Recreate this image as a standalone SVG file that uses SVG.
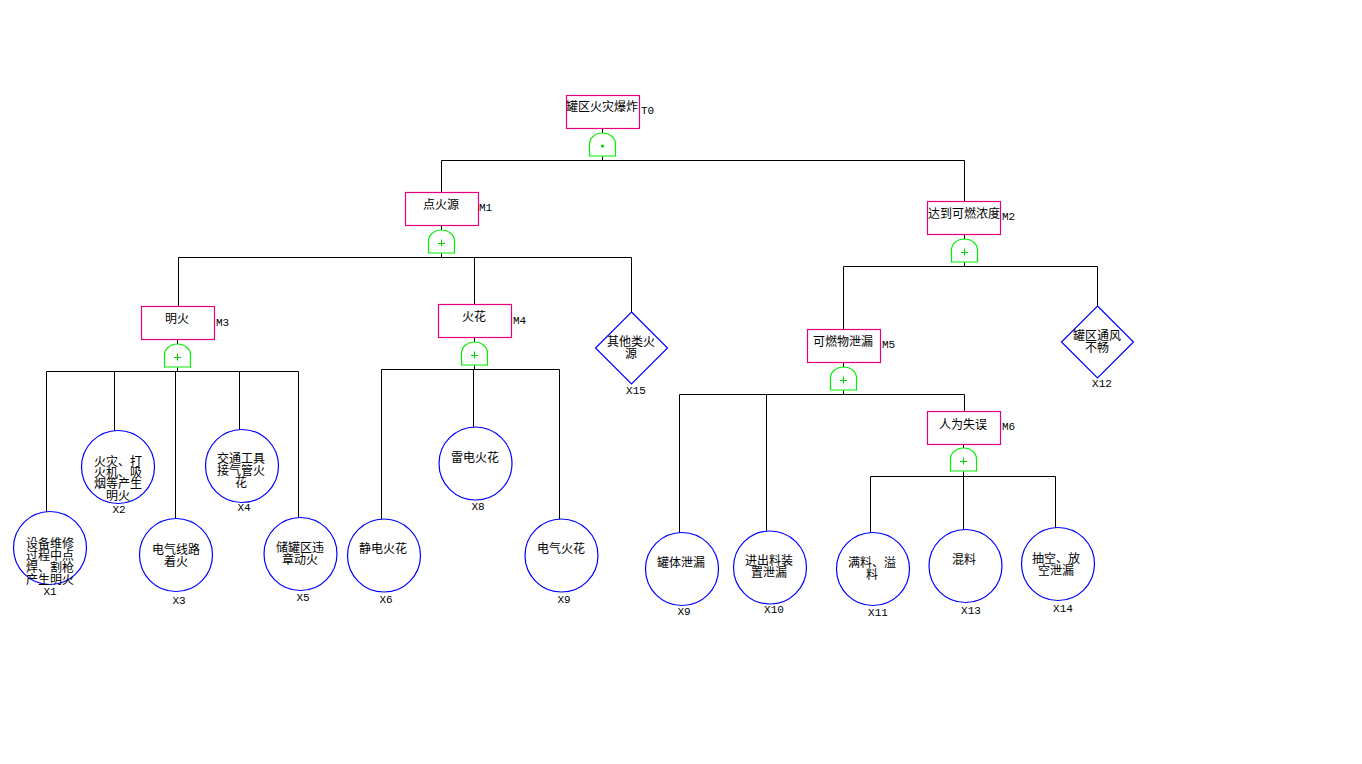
<svg xmlns="http://www.w3.org/2000/svg" width="1362" height="764" viewBox="0 0 1362 764">
<style>
.bg{fill:#ffffff}
.ev{fill:#ffffff;stroke:#e6007e;stroke-width:1.2}
.bs{fill:#ffffff;stroke:#0000ff;stroke-width:1.2}
.gate{fill:#ffffff;stroke:#00f000;stroke-width:1.2}
.gs{stroke:#00d000;stroke-width:1;fill:none}
.ln{stroke:#000000;stroke-width:1;fill:none}
.t{font-family:"Noto Sans CJK SC","Noto Sans CJK JP",sans-serif;font-size:12px;fill:#000;text-anchor:middle}
.id{font-family:"Liberation Mono",monospace;font-size:11px;fill:#000}
.idc{font-family:"Liberation Mono",monospace;font-size:11px;fill:#000;text-anchor:middle}
</style>
<defs>
<path id="g" d="M-13,23 V11 A13,11 0 0 1 13,11 V23 Z"/>
</defs>
<rect class="bg" x="0" y="0" width="1362" height="764"/>

<g id="connectors" transform="translate(0.5,0.5)">
<path class="ln" d="M602,128V133M602,156V160M441,160H964M441,160V192M964,160V201"/>
<path class="ln" d="M441,225V230M441,253V257M178,257H631M178,257V306M474,257V304M631,257V312"/>
<path class="ln" d="M177,339V344M177,367V371M46,371H298M46,371V512M114,371V431M175,371V518M239,371V430M298,371V518"/>
<path class="ln" d="M474,337V342M474,365V369M381,369H559M381,369V519M473,369V427M559,369V519"/>
<path class="ln" d="M964,234V239M964,262V266M843,266H1097M843,266V329M1097,266V306"/>
<path class="ln" d="M843,362V367M843,390V394M679,394H964M679,394V533M766,394V531M964,394V411"/>
<path class="ln" d="M963,444V448M963,471V476M870,476H1055M870,476V533M963,476V530M1055,476V528"/>
</g>

<g id="gates">
<g id="G0" transform="translate(602.5,133)"><use href="#g" class="gate"/><circle cx="0" cy="13" r="1.6" fill="#00d000"/></g>
<g id="G1" transform="translate(441.5,230)"><use href="#g" class="gate"/><path class="gs" d="M-3.5,13.5H3.5M0,9.5V16.5"/></g>
<g id="G2" transform="translate(964.5,239)"><use href="#g" class="gate"/><path class="gs" d="M-3.5,13.5H3.5M0,9.5V16.5"/></g>
<g id="G3" transform="translate(177.5,344)"><use href="#g" class="gate"/><path class="gs" d="M-3.5,13.5H3.5M0,9.5V16.5"/></g>
<g id="G4" transform="translate(474.5,342)"><use href="#g" class="gate"/><path class="gs" d="M-3.5,13.5H3.5M0,9.5V16.5"/></g>
<g id="G5" transform="translate(843.5,367)"><use href="#g" class="gate"/><path class="gs" d="M-3.5,13.5H3.5M0,9.5V16.5"/></g>
<g id="G6" transform="translate(963.5,448)"><use href="#g" class="gate"/><path class="gs" d="M-3.5,13.5H3.5M0,9.5V16.5"/></g>
</g>

<g id="T0"><rect class="ev" x="566.5" y="95.5" width="73" height="33"/><text class="t" x="602" y="111">罐区火灾爆炸</text><text class="id" x="641" y="114">T0</text></g>
<g id="M1"><rect class="ev" x="405.5" y="192.5" width="73" height="33"/><text class="t" x="441" y="209">点火源</text><text class="id" x="479" y="211">M1</text></g>
<g id="M2"><rect class="ev" x="927.5" y="201.5" width="73" height="33"/><text class="t" x="964" y="218">达到可燃浓度</text><text class="id" x="1002" y="220">M2</text></g>
<g id="M3"><rect class="ev" x="141.5" y="306.5" width="73" height="33"/><text class="t" x="177" y="323">明火</text><text class="id" x="216" y="326">M3</text></g>
<g id="M4"><rect class="ev" x="438.5" y="304.5" width="73" height="33"/><text class="t" x="474" y="321">火花</text><text class="id" x="513" y="324">M4</text></g>
<g id="M5"><rect class="ev" x="807.5" y="329.5" width="73" height="33"/><text class="t" x="843" y="346">可燃物泄漏</text><text class="id" x="882" y="348">M5</text></g>
<g id="M6"><rect class="ev" x="927.5" y="411.5" width="73" height="33"/><text class="t" x="963" y="429">人为失误</text><text class="id" x="1002" y="430">M6</text></g>

<g id="X1"><circle class="bs" cx="50" cy="548" r="36.5"/><text class="t" x="50" y="548">设备维修</text><text class="t" x="50" y="560">过程中点</text><text class="t" x="50" y="572">焊、割枪</text><text class="t" x="50" y="584">产生明火</text><text class="idc" x="50" y="595">X1</text></g>
<g id="X2"><circle class="bs" cx="118" cy="467" r="36.5"/><text class="t" x="118" y="466">火灾、打</text><text class="t" x="118" y="477">火机、吸</text><text class="t" x="118" y="488">烟等产生</text><text class="t" x="118" y="500">明火</text><text class="idc" x="119" y="513">X2</text></g>
<g id="X3"><circle class="bs" cx="176" cy="555" r="36.5"/><text class="t" x="176" y="554">电气线路</text><text class="t" x="176" y="566">着火</text><text class="idc" x="179" y="604">X3</text></g>
<g id="X4"><circle class="bs" cx="242" cy="466" r="36.5"/><text class="t" x="241" y="463">交通工具</text><text class="t" x="241" y="475">接气管火</text><text class="t" x="241" y="487">花</text><text class="idc" x="244" y="511">X4</text></g>
<g id="X5"><circle class="bs" cx="300.5" cy="554" r="36.5"/><text class="t" x="300" y="552">储罐区违</text><text class="t" x="300" y="564">章动火</text><text class="idc" x="303" y="601">X5</text></g>
<g id="X6"><circle class="bs" cx="384" cy="555.5" r="36.5"/><text class="t" x="383" y="553">静电火花</text><text class="idc" x="386" y="603">X6</text></g>
<g id="X8"><circle class="bs" cx="475.5" cy="463.5" r="36.5"/><text class="t" x="475" y="462">雷电火花</text><text class="idc" x="478" y="510">X8</text></g>
<g id="X9a"><circle class="bs" cx="561.5" cy="555.5" r="36.5"/><text class="t" x="561" y="553">电气火花</text><text class="idc" x="564" y="603">X9</text></g>
<g id="X15"><path class="bs" d="M631.5,312L667.5,348L631.5,384L595.5,348Z"/><text class="t" x="631" y="346">其他类火</text><text class="t" x="631" y="358">源</text><text class="idc" x="636" y="394">X15</text></g>
<g id="X12"><path class="bs" d="M1097.5,306L1133.5,342L1097.5,378L1061.5,342Z"/><text class="t" x="1097" y="340">罐区通风</text><text class="t" x="1097" y="352">不畅</text><text class="idc" x="1102" y="387">X12</text></g>
<g id="X9b"><circle class="bs" cx="682" cy="569" r="36.5"/><text class="t" x="681" y="567">罐体泄漏</text><text class="idc" x="684" y="615">X9</text></g>
<g id="X10"><circle class="bs" cx="770" cy="567.5" r="36.5"/><text class="t" x="769" y="565">进出料装</text><text class="t" x="769" y="577">置泄漏</text><text class="idc" x="774" y="613">X10</text></g>
<g id="X11"><circle class="bs" cx="873" cy="569" r="36.5"/><text class="t" x="872" y="567">满料、溢</text><text class="t" x="872" y="579">料</text><text class="idc" x="878" y="616">X11</text></g>
<g id="X13"><circle class="bs" cx="965.5" cy="566" r="36.5"/><text class="t" x="964" y="564">混料</text><text class="idc" x="971" y="614">X13</text></g>
<g id="X14"><circle class="bs" cx="1058" cy="564" r="36.5"/><text class="t" x="1056" y="563">抽空、放</text><text class="t" x="1056" y="575">空泄漏</text><text class="idc" x="1063" y="612">X14</text></g>
</svg>
